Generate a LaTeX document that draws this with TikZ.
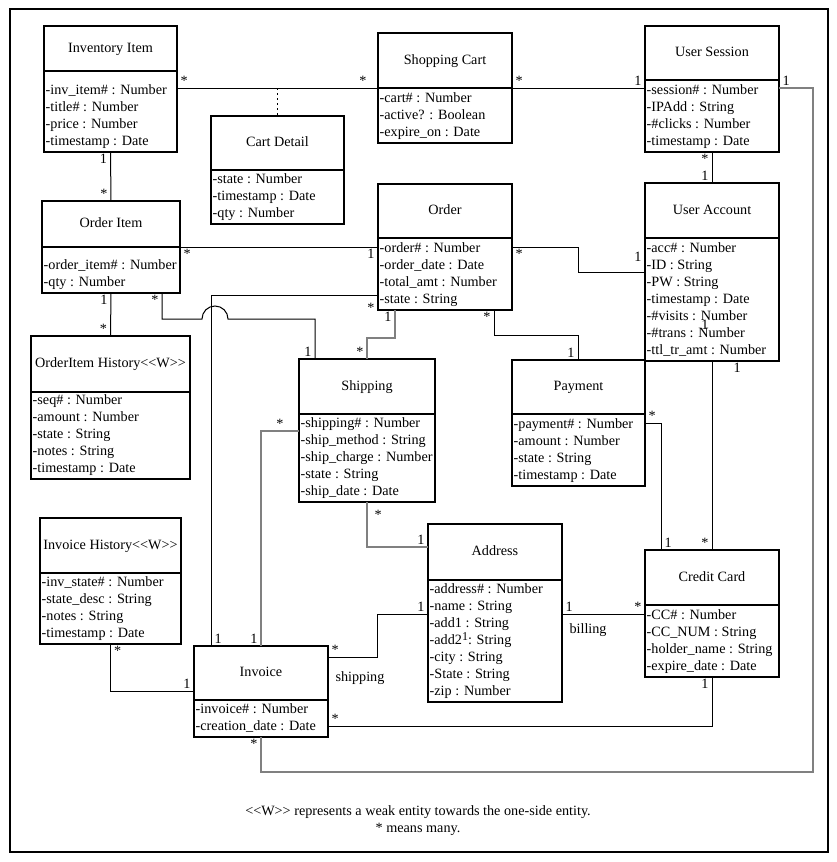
\documentclass[tikz,border=0pt]{standalone}
\usepackage{fontspec}
\setmainfont{Liberation Serif}
\begin{document}
\begin{tikzpicture}[x=1pt, y=-1pt, font=\fontsize{14.2}{17}\selectfont,
  classhead/.style={draw, line width=1.6pt, outer sep=0pt, inner xsep=1pt, text height=10pt, text depth=3pt},
  classbody/.style={draw, line width=1.6pt, outer sep=0pt},
  attrtext/.style={align=left, inner xsep=1.5pt, inner ysep=1.4pt},
  mult/.style={inner xsep=3pt, inner ysep=2pt},
  rolename/.style={inner sep=2pt},
  assoc/.style={line width=1pt},
  grayassoc/.style={line width=1.1pt, draw=black!50},
  weakdot/.style={line width=1.3pt, dash pattern=on 1.5pt off 3.5pt}]
\useasboundingbox (0,0) rectangle (836,862);
\draw[line width=1.6pt] (10,9) rectangle (828,852);

% classes: name/left/top/right/divider/bottom/title/attributes
\foreach \nm/\xl/\yt/\xr/\yd/\yb/\ttl/\attrs in {
  invitem/44/26/177/71/152/{Inventory Item}/{-inv\_item\# : Number\\-title\# : Number\\-price : Number\\-timestamp : Date},
  cart/378/33/512/88/143/{Shopping Cart}/{-cart\# : Number\\-active? : Boolean\\-expire\_on : Date},
  session/645/26/779/80/152/{User Session}/{-session\# : Number\\-IPAdd : String\\-\#clicks : Number\\-timestamp : Date},
  cartdet/211/116/344/170/224/{Cart Detail}/{-state : Number\\-timestamp : Date\\-qty : Number},
  orditem/42/201/180/247/293/{Order Item}/{-order\_item\# : Number\\-qty : Number},
  order/378/184/512/238/310/{Order}/{-order\# : Number\\-order\_date : Date\\-total\_amt : Number\\-state : String},
  account/645/183/779/238/361/{User Account}/{-acc\# : Number\\-ID : String\\-PW : String\\-timestamp : Date\\-\#visits : Number\\-\#trans : Number\\-ttl\_tr\_amt : Number},
  oihist/31/336/190/392/479/{OrderItem History<{}<W>{}>}/{-seq\# : Number\\-amount : Number\\-state : String\\-notes : String\\-timestamp : Date},
  shipping/299/359/435/414/502/{Shipping}/{-shipping\# : Number\\-ship\_method : String\\-ship\_charge : Number\\-state : String\\-ship\_date : Date},
  payment/512/360/645/414/486/{Payment}/{-payment\# : Number\\-amount : Number\\-state : String\\-timestamp : Date},
  address/428/524/562/580/702/{Address}/{-address\# : Number\\-name : String\\-add1 : String\\-add2\raisebox{3.5pt}{\fontsize{12}{12}\selectfont 1}: String\\-city : String\\-State : String\\-zip : Number},
  ccard/645/550/779/605/677/{Credit Card}/{-CC\# : Number\\-CC\_NUM : String\\-holder\_name : String\\-expire\_date : Date},
  invhist/40/518/181/573/644/{Invoice History<{}<W>{}>}/{-inv\_state\# : Number\\-state\_desc : String\\-notes : String\\-timestamp : Date},
  invoice/194/646/328/700/737/{Invoice}/{-invoice\# : Number\\-creation\_date : Date}}
{
  \node[classhead, minimum width={\xr-\xl}, minimum height={\yd-\yt}] (\nm) at ({(\xl+\xr)/2},{(\yt+\yd)/2}) {\ttl};
  \node[classbody, minimum width={\xr-\xl}, minimum height={\yb-\yd}, anchor=north] (\nm-a) at (\nm.south) {};
  \node[attrtext, anchor=south west] (\nm-t) at (\nm-a.south west) {\attrs\strut};
}
\node[mult] (accone) at (705,325) {1};

% associations
\draw[assoc] (invitem-a.east |- 0,88) node[mult, above right]{*} -- (cart-a.west |- 0,88) node[mult, above left, xshift=-8pt]{*};
\draw[weakdot] (cartdet.north |- 0,88) -- (cartdet.north);
\draw[assoc] (cart-a.east |- 0,88) node[mult, above right]{*} -- (session-a.west |- 0,88) node[mult, above left]{1};
\draw[assoc] (session-a.south) node[mult, below left]{*} -- (account.north) node[mult, above left]{1};
\draw[grayassoc] (session-a.east |- 0,88) node[mult, above right]{1} -| (813,772) -| (invoice-a.south) node[mult, below left]{*};
\draw[assoc] (invitem-a.south) node[mult, below left]{1} -- (orditem.north) node[mult, above left]{*};
\draw[assoc] (orditem-a.north east) node[mult, below right]{*} -- (order-a.west |- orditem-a.north east) node[mult, below left]{1};
\draw[assoc] (order-a.east |- 0,247) node[mult, below right]{*} -| (578,272) -- (account-a.west |- 0,272) node[mult, above left, yshift=8pt]{1};
\draw[assoc] (orditem-a.south) node[mult, below left]{1} -- (oihist.north) node[mult, above left]{*};
\draw[assoc] (orditem-a.south -| 162,0) node[mult, below left]{*} |- (202,319) arc[start angle=180, end angle=360, radius=13] -| (shipping.north -| 315,0) node[mult, above left]{1};
\draw[assoc] (order-a.west |- 0,295) node[mult, below left, yshift=-6pt]{*} -| (invoice.north -| 211,0) node[mult, above right]{1};
\draw[grayassoc] (order-a.south -| 395,0) node[mult, below left]{1} |- (367,338) -- (shipping.north -| 367,0) node[mult, above left]{*};
\draw[assoc] (order-a.south -| 494,0) node[mult, below left]{*} |- (578,335) -- (payment.north -| 578,0) node[mult, above left]{1};
\draw[grayassoc] (shipping-a.west |- 0,431) -- node[mult, above]{*} (261,431) -- (invoice.north) node[mult, above left]{1};
\draw[grayassoc] (shipping-a.south -| 367,0) node[mult, below right, xshift=4pt, yshift=-6pt]{*} |- (address.west |- 0,547) node[mult, above left]{1};
\draw[assoc] (invoice.east |- 0,657) node[mult, above right]{*} node[rolename, below right, xshift=5pt, yshift=-12pt]{shipping} -| (377,614) -- (address-a.west |- 0,614) node[mult, above left]{1};
\draw[assoc] (address-a.east |- 0,614) node[mult, above right]{1} node[rolename, below right, xshift=5pt, yshift=-7pt]{billing} -- (ccard-a.west |- 0,614) node[mult, above left]{*};
\draw[assoc] (invoice-a.east |- 0,726) node[mult, above right]{*} -| (ccard-a.south) node[mult, below left]{1};
\draw[assoc] (payment-a.east |- 0,423) node[mult, above right]{*} -| (ccard.north -| 661,0) node[mult, above right]{1};
\draw[assoc] (account-a.south) node[mult, below right, xshift=18pt]{1} -- (ccard.north) node[mult, above left]{*};
\draw[assoc] (invhist-a.south) node[mult, below right]{*} |- (invoice.west |- 0,691) node[mult, above left]{1};

\node (legend) at (418,812) {<{}<W>{}> represents a weak entity towards the one-side entity.};
\node (legendstar) at (418,829) {* means many.};
\end{tikzpicture}
\end{document}
